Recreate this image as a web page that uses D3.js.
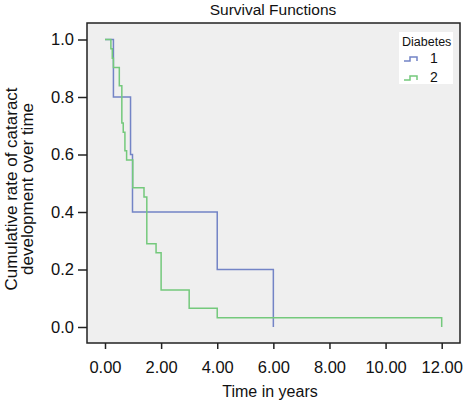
<!DOCTYPE html>
<html><head><meta charset="utf-8">
<script src="https://cdn.jsdelivr.net/npm/d3@7"></script>
<style>body{margin:0;background:#fff;} text{font-family:"Liberation Sans",Arial,sans-serif;fill:#111;}</style>
</head><body>
<svg id="c" width="463" height="402"></svg>
<script>
const title = "Survival Functions";
const xLabel = "Time in years";
const yLabel = ["Cumulative rate of cataract", "development over time"];
const legendTitle = "Diabetes";
const groups = ["1", "2"];
const xTicks = [0, 2, 4, 6, 8, 10, 12];
const yTicks = [0, 0.2, 0.4, 0.6, 0.8, 1.0];
// step-function survival curves: value holds from time[i] until time[i+1]
const g1Times = [0, 0.30, 0.91, 0.98, 4.0, 6.0];
const g1Surv  = [1.0, 0.8, 0.6, 0.4, 0.2, 0.0];
const g2Times = [0, 0.21, 0.26, 0.30, 0.51, 0.60, 0.65, 0.71, 0.77, 0.99, 1.39, 1.49, 1.82, 2.0, 3.0, 4.0, 12.0];
const g2Surv  = [1.0, 0.968, 0.935, 0.903, 0.839, 0.710, 0.677, 0.613, 0.581, 0.484, 0.452, 0.290, 0.258, 0.129, 0.065, 0.032, 0.0];
const colors = ["#7384c6", "#74c97c"];

const svg = d3.select("#c");
const L = 87, R = 460, T = 23, B = 343;
const x = d3.scaleLinear().domain([0, 12]).range([105, 441.7]);
const y = d3.scaleLinear().domain([0, 1]).range([327, 39.5]);

svg.append("rect").attr("x", L).attr("y", T).attr("width", R - L).attr("height", B - T)
  .attr("fill", "#efefef").attr("stroke", "#222").attr("stroke-width", 1.5);

svg.append("text").attr("x", 273).attr("y", 15).attr("text-anchor", "middle")
  .attr("font-size", 15.5).text(title);

const xAxis = d3.axisBottom(x).tickValues(xTicks).tickFormat(d3.format(".2f")).tickSize(6).tickSizeOuter(0);
const gx = svg.append("g").attr("transform", `translate(0,${B})`).call(xAxis);
gx.select(".domain").remove();
gx.selectAll("line").attr("stroke", "#222").attr("stroke-width", 1.5);
gx.selectAll("text").attr("font-size", 16.5).attr("y", 30).attr("dy", null).attr("fill", "#111");

const yAxis = d3.axisLeft(y).tickValues(yTicks).tickFormat(d3.format(".1f")).tickSize(9).tickSizeOuter(0);
const gy = svg.append("g").attr("transform", `translate(${L},0)`).call(yAxis);
gy.select(".domain").remove();
gy.selectAll("line").attr("stroke", "#222").attr("stroke-width", 1.5);
gy.selectAll("text").attr("font-size", 16.5).attr("fill", "#111").attr("x", -13);

svg.append("text").attr("x", 270).attr("y", 397).attr("text-anchor", "middle")
  .attr("font-size", 16).text(xLabel);

yLabel.forEach((t, i) => {
  svg.append("text").attr("transform", `translate(${17 + i * 16},189) rotate(-90)`)
    .attr("text-anchor", "middle").attr("font-size", 17).text(t);
});

const line = d3.line().curve(d3.curveStepAfter).x(d => x(d[0])).y(d => y(d[1]));
function drawCurve(times, surv, color) {
  const pts = times.map((t, i) => [t, surv[i]]);
  svg.append("path").attr("d", line(pts)).attr("fill", "none")
    .attr("stroke", color).attr("stroke-width", 1.5);
}
drawCurve(g1Times, g1Surv, colors[0]);
drawCurve(g2Times, g2Surv, colors[1]);

// legend
const lg = svg.append("g");
lg.append("rect").attr("x", 399).attr("y", 32).attr("width", 54).attr("height", 52).attr("fill", "#fff");
lg.append("text").attr("x", 402).attr("y", 46).attr("font-size", 12.5).text(legendTitle);
groups.forEach((g, i) => {
  const yy = 58 + i * 19;
  lg.append("path").attr("d", `M404,${yy + 3}H410V${yy - 1}H417V${yy + 3}`)
    .attr("fill", "none").attr("stroke", colors[i]).attr("stroke-width", 1.5);
  lg.append("text").attr("x", 430).attr("y", yy + 5).attr("font-size", 14).text(g);
});
</script>
</body></html>
